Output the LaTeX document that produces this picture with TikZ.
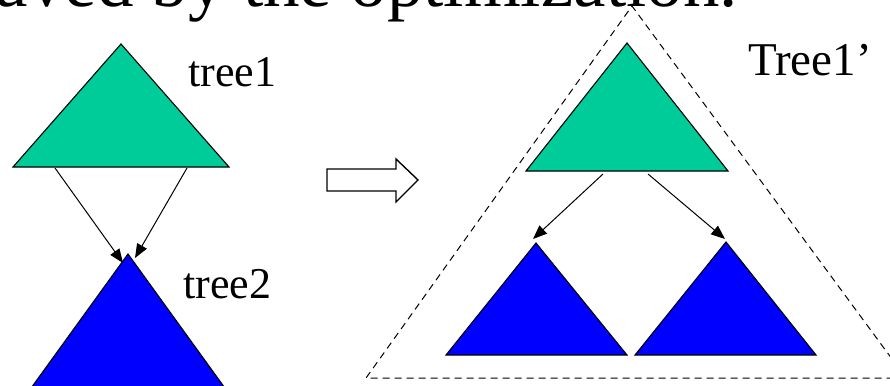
\documentclass[tikz,border=0pt]{standalone}
\usepackage{fontspec}
\setmainfont{Liberation Serif}
\usetikzlibrary{arrows.meta}
\definecolor{treeGreen}{RGB}{0,204,153}
\begin{document}
\begin{tikzpicture}[x=1pt, y=-1pt,
    topTree/.style={draw=black, fill=treeGreen, line width=1.1pt},
    subTree/.style={draw=black, fill=blue, line width=1.1pt},
    link/.style={-{Triangle[length=14pt, width=11pt]}, line width=1pt},
    treeName/.style={anchor=base west, inner sep=0pt, font=\fontsize{44}{50}\selectfont}]
  \useasboundingbox (0, 0) rectangle (890, 385);
  \node[anchor=base east, inner sep=0pt, font=\fontsize{73}{80}\selectfont] (title) at (738, 7) {aved by the optimization.};
  % before
  \draw[topTree] (121, 44) -- (13, 167) -- (229, 167) -- cycle;
  \draw[subTree] (128, 254) -- (8, 420) -- (248, 420) -- cycle;
  \coordinate (t1a) at (55, 168);
  \coordinate (t1b) at (187, 168);
  \coordinate (t2a) at (123, 263);
  \coordinate (t2b) at (135, 258);
  \draw[link] (t1a) -- (t2a);
  \draw[link] (t1b) -- (t2b);
  \node[treeName] (tree1) at (188, 87) {tree1};
  \node[treeName] (tree2) at (183, 298) {tree2};
  % hollow arrow
  \draw[line width=1.4pt, line join=miter] (327, 169) -- (396, 169) -- (396, 159) -- (418, 180)
    -- (396, 202) -- (396, 191) -- (327, 191) -- cycle;
  % after
  \draw[line width=1pt, dash pattern=on 7pt off 5pt] (906, 378) -- (632, 6) -- (366, 378) -- cycle;
  \draw[topTree] (627, 43) -- (526, 171) -- (728, 171) -- cycle;
  \draw[subTree] (536, 243) -- (446, 355) -- (627, 355) -- cycle;
  \draw[subTree] (726, 242) -- (635, 355) -- (816, 355) -- cycle;
  \coordinate (n1a) at (603, 174);
  \coordinate (n1b) at (648, 174);
  \coordinate (n2a) at (533, 239);
  \coordinate (n2b) at (725, 239);
  \draw[link] (n1a) -- (n2a);
  \draw[link] (n1b) -- (n2b);
  \node[treeName, font=\fontsize{47}{52}\selectfont] (tree1new) at (748, 76) {Tree1'};
\end{tikzpicture}
\end{document}
